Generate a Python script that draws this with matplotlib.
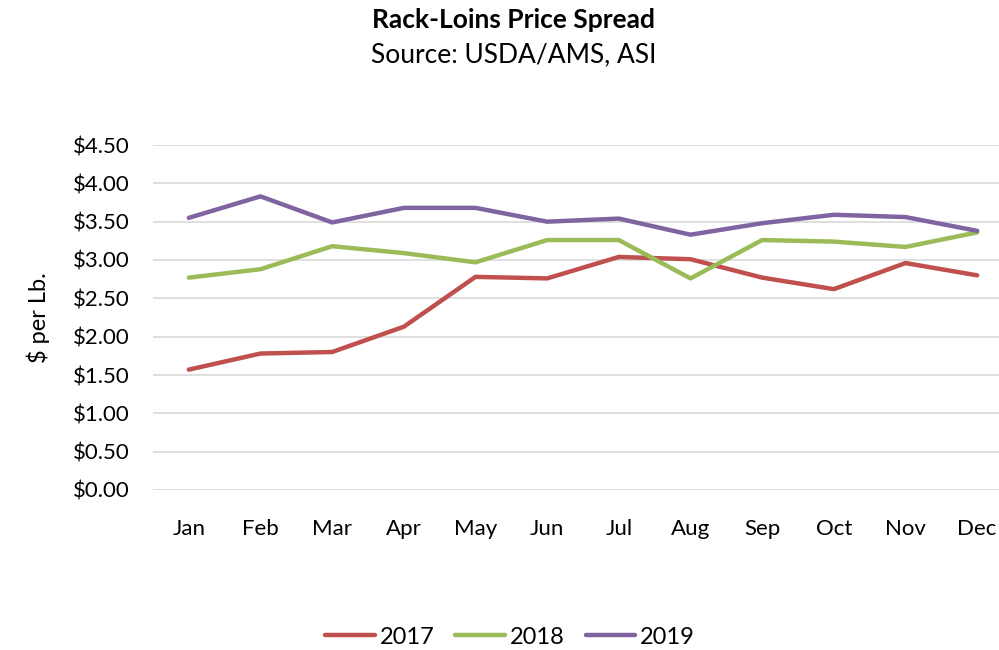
import numpy as np
import matplotlib.pyplot as plt
from matplotlib.ticker import FuncFormatter

months = ['Jan', 'Feb', 'Mar', 'Apr', 'May', 'Jun',
          'Jul', 'Aug', 'Sep', 'Oct', 'Nov', 'Dec']
spread_2017 = [1.57, 1.78, 1.80, 2.13, 2.78, 2.76, 3.04, 3.01, 2.77, 2.62, 2.96, 2.80]
spread_2018 = [2.77, 2.88, 3.18, 3.09, 2.97, 3.26, 3.26, 2.76, 3.26, 3.24, 3.17, 3.36]
spread_2019 = [3.55, 3.83, 3.49, 3.68, 3.68, 3.50, 3.54, 3.33, 3.48, 3.59, 3.56, 3.38]

series = [('2017', spread_2017, '#C0504D'),
          ('2018', spread_2018, '#9BBB59'),
          ('2019', spread_2019, '#8064A2')]

plt.rcParams['font.family'] = ['Lato', 'DejaVu Sans']

fig = plt.figure(figsize=(9.99, 6.5), dpi=100)
ax = fig.add_axes([153 / 999, 160 / 650, 860 / 999, 345 / 650])

x = np.arange(len(months))
for name, vals, color in series:
    ax.plot(x, vals, color=color, linewidth=3.2, label=name,
            solid_capstyle='round', solid_joinstyle='round')

ax.set_xlim(-0.5, len(months) - 0.5)
ax.set_ylim(0, 4.5)
ax.set_yticks(np.arange(0, 4.51, 0.5))
ax.yaxis.set_major_formatter(FuncFormatter(lambda v, _: f'${v:.2f}'))
ax.set_xticks(x)
ax.set_xticklabels(months)

ax.grid(axis='y', color='#D9D9D9', linewidth=1.2)
ax.set_axisbelow(True)
for side in ['top', 'right', 'left', 'bottom']:
    ax.spines[side].set_visible(False)
ax.tick_params(axis='both', length=0, labelsize=16, colors='#000000')
ax.tick_params(axis='y', pad=17)
ax.tick_params(axis='x', pad=21)

ax.set_ylabel('$ per Lb.', fontsize=17, labelpad=16)

fig.text(514 / 999, 1 - 20 / 650, 'Rack-Loins Price Spread', ha='center', va='center',
         fontsize=19, fontweight='bold')
fig.text(514 / 999, 1 - 55 / 650, 'Source: USDA/AMS, ASI', ha='center', va='center',
         fontsize=19)

fig.legend(loc='center', bbox_to_anchor=(510 / 999, 1 - 637 / 650), ncol=3,
           frameon=False, fontsize=17, handlelength=2.1, handletextpad=0.2,
           columnspacing=0.9)

fig.savefig('out.png', dpi=100, facecolor='white')
